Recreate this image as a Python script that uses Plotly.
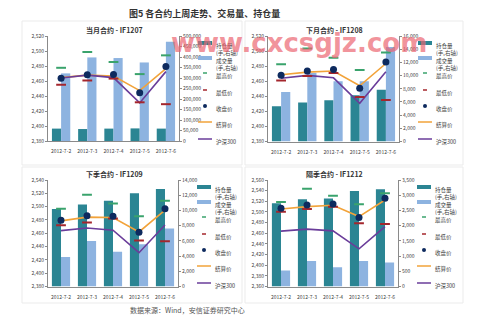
import plotly.graph_objects as go

# ---------------- data ----------------
dates = ["2012-7-2", "2012-7-3", "2012-7-4", "2012-7-5", "2012-7-6"]

hs300 = [2464.0, 2467.8, 2464.5, 2430.8, 2472.5]

if1207_oi = [59000, 57000, 59000, 60000, 59000]
if1207_vol = [322000, 398000, 395000, 374000, 473000]
if1207_high = [2477.6, 2498.7, 2485.3, 2469.2, 2494.2]
if1207_low = [2455.0, 2460.7, 2463.2, 2431.6, 2429.1]
if1207_close = [2463.8, 2468.5, 2468.7, 2444.5, 2479.2]
if1207_settle = [2464.5, 2467.8, 2466.5, 2447.2, 2476.5]

if1208_oi = [5330, 5900, 6250, 7000, 7830]
if1208_vol = [7500, 10400, 9150, 9150, 14350]
if1208_high = [2482.5, 2503.5, 2491.0, 2475.0, 2498.0]
if1208_low = [2461.0, 2467.0, 2471.0, 2439.0, 2435.0]
if1208_close = [2468.0, 2473.5, 2475.5, 2450.5, 2485.5]
if1208_settle = [2468.5, 2472.0, 2473.5, 2454.0, 2483.5]

if1209_oi = [10180, 10790, 11280, 12250, 12820]
if1209_vol = [3880, 5990, 4580, 5550, 7620]
if1209_high = [2496.7, 2517.9, 2504.8, 2485.7, 2508.8]
if1209_low = [2472.0, 2476.0, 2482.0, 2449.0, 2447.9]
if1209_close = [2479.6, 2486.2, 2485.7, 2461.5, 2496.7]
if1209_settle = [2478.6, 2484.2, 2483.6, 2462.0, 2494.7]

if1212_oi = [2735, 2867, 2888, 3140, 3195]
if1212_vol = [525, 842, 634, 842, 788]
if1212_high = [2518.8, 2543.8, 2530.6, 2514.4, 2535.0]
if1212_low = [2500.6, 2505.6, 2510.0, 2478.8, 2477.5]
if1212_close = [2506.9, 2513.1, 2515.0, 2489.4, 2525.6]
if1212_settle = [2505.6, 2510.0, 2512.5, 2491.3, 2522.5]

legend_labels = ["持仓量<br>(手,右轴)", "成交量<br>(手,右轴)", "最高价", "最低价",
                 "收盘价", "结算价", "沪深300"]

# ---------------- styling ----------------
W, H = 499, 323
FONT = "Noto Sans CJK SC"
C_OI = "#2b8593"
C_VOL = "#8db3e0"
C_HIGH = "#3aa36c"
C_LOW = "#a4262d"
C_CLOSE = "#0d2a5e"
C_SETTLE = "#f2a33a"
C_HS = "#6a3d9a"
AXIS_C = "#8a8a8a"
TXT_C = "#404040"


def px(x):
    return x / W


def py(y):
    return 1 - y / H


panels = [
    dict(title="当月合约 - IF1207", oi=if1207_oi, vol=if1207_vol, high=if1207_high,
         low=if1207_low, close=if1207_close, settle=if1207_settle,
         lrange=[2380, 2520], ldtick=20, rrange=[0, 500000], rdtick=50000,
         box=(48, 179, 36, 141), frame=(22, 242, 21, 165)),
    dict(title="下月合约 - IF1208", oi=if1208_oi, vol=if1208_vol, high=if1208_high,
         low=if1208_low, close=if1208_close, settle=if1208_settle,
         lrange=[2380, 2520], ldtick=20, rrange=[0, 16000], rdtick=2000,
         box=(268, 399, 36, 141.5), frame=(245, 463, 21, 165)),
    dict(title="下季合约 - IF1209", oi=if1209_oi, vol=if1209_vol, high=if1209_high,
         low=if1209_low, close=if1209_close, settle=if1209_settle,
         lrange=[2380, 2540], ldtick=20, rrange=[0, 14000], rdtick=2000,
         box=(48, 178, 180, 286.5), frame=(22, 242, 167, 303)),
    dict(title="隔季合约 - IF1212", oi=if1212_oi, vol=if1212_vol, high=if1212_high,
         low=if1212_low, close=if1212_close, settle=if1212_settle,
         lrange=[2360, 2560], ldtick=20, rrange=[0, 3500], rdtick=500,
         box=(268, 398, 180, 286.5), frame=(245, 463, 167, 303)),
]

fig = go.Figure()
layout = dict(
    width=W, height=H, template="none",
    margin=dict(l=0, r=0, t=0, b=0, pad=0),
    paper_bgcolor="white", plot_bgcolor="white",
    showlegend=False, barmode="group", bargap=0.3, bargroupgap=0,
    font=dict(family=FONT, size=6, color=TXT_C),
)
shapes = []
annotations = []

tick_font = dict(family=FONT, size=5, color=TXT_C)

for i, p in enumerate(panels):
    n = i + 1
    xa = "x" if n == 1 else f"x{n}"
    ybar = f"y{2 * n - 1}" if n > 1 else "y"
    yline = f"y{2 * n}"
    x0, x1, y0, y1 = p["box"]
    xdom = [px(x0), px(x1)]
    ydom = [py(y1), py(y0)]

    xkey = "xaxis" if n == 1 else f"xaxis{n}"
    ybkey = "yaxis" if n == 1 else f"yaxis{2 * n - 1}"
    ylkey = f"yaxis{2 * n}"

    layout[xkey] = dict(domain=xdom, anchor=ybar, type="category",
                        showline=True, linecolor=AXIS_C, linewidth=1,
                        showgrid=False, zeroline=False, ticks="",
                        ticklabelstandoff=5,
                        tickfont=tick_font, automargin=False, fixedrange=True)
    layout[ybkey] = dict(domain=ydom, anchor=xa, side="right",
                         range=p["rrange"], dtick=p["rdtick"], tickformat=",",
                         showline=True, linecolor=AXIS_C, linewidth=1,
                         ticks="outside", ticklen=2, tickcolor=AXIS_C,
                         showgrid=False, zeroline=False, tickfont=tick_font,
                         automargin=False)
    layout[ylkey] = dict(overlaying=ybar, anchor=xa, side="left",
                         range=p["lrange"], dtick=p["ldtick"], tickformat=",",
                         showline=True, linecolor=AXIS_C, linewidth=1,
                         ticks="outside", ticklen=2, tickcolor=AXIS_C,
                         showgrid=False, zeroline=False, tickfont=tick_font,
                         automargin=False)

    # volume / open interest bars on the right-hand axis
    fig.add_trace(go.Bar(x=dates, y=p["oi"], name="持仓量", marker_color=C_OI,
                         marker_line_width=0, xaxis=xa, yaxis=ybar))
    fig.add_trace(go.Bar(x=dates, y=p["vol"], name="成交量", marker_color=C_VOL,
                         marker_line_width=0, xaxis=xa, yaxis=ybar))
    # price series on the left-hand axis
    fig.add_trace(go.Scatter(x=dates, y=p["settle"], mode="lines", name="结算价",
                             line=dict(color=C_SETTLE, width=1.6), xaxis=xa, yaxis=yline))
    fig.add_trace(go.Scatter(x=dates, y=hs300, mode="lines", name="沪深300",
                             line=dict(color=C_HS, width=1.6), xaxis=xa, yaxis=yline))
    fig.add_trace(go.Scatter(x=dates, y=p["high"], mode="markers", name="最高价",
                             marker=dict(symbol="line-ew", size=7,
                                         line=dict(color=C_HIGH, width=2)),
                             xaxis=xa, yaxis=yline))
    fig.add_trace(go.Scatter(x=dates, y=p["low"], mode="markers", name="最低价",
                             marker=dict(symbol="line-ew", size=7,
                                         line=dict(color=C_LOW, width=2)),
                             xaxis=xa, yaxis=yline))
    fig.add_trace(go.Scatter(x=dates, y=p["close"], mode="markers", name="收盘价",
                             marker=dict(size=7, color=C_CLOSE),
                             xaxis=xa, yaxis=yline))

    # panel frame
    fx0, fx1, fy0, fy1 = p["frame"]
    shapes.append(dict(type="rect", xref="paper", yref="paper",
                       x0=px(fx0), x1=px(fx1), y0=py(fy1), y1=py(fy0),
                       line=dict(color="#ebebeb", width=1), layer="below"))

    # panel title
    annotations.append(dict(text=f"<b>{p['title']}</b>", xref="paper", yref="paper",
                            x=px((x0 + x1) / 2 + 1), y=py(y0 - 6),
                            xanchor="center", yanchor="middle", showarrow=False,
                            font=dict(family=FONT, size=7, color="#333333")))

    # legend
    lx = x1 + 19
    offsets = [7, 22, 37, 54, 70, 86, 103]
    for k, (lab, off) in enumerate(zip(legend_labels, offsets)):
        yy = y0 + off
        if k in (0, 1):
            shapes.append(dict(type="line", xref="paper", yref="paper",
                               x0=px(lx), x1=px(lx + 14), y0=py(yy), y1=py(yy),
                               line=dict(color=C_OI if k == 0 else C_VOL, width=4)))
        elif k in (2, 3):
            shapes.append(dict(type="line", xref="paper", yref="paper",
                               x0=px(lx + 5), x1=px(lx + 9), y0=py(yy), y1=py(yy),
                               line=dict(color=C_HIGH if k == 2 else C_LOW, width=1.5)))
        elif k == 4:
            shapes.append(dict(type="circle", xref="paper", yref="paper",
                               x0=px(lx + 5), x1=px(lx + 9), y0=py(yy + 2), y1=py(yy - 2),
                               fillcolor=C_CLOSE, line=dict(width=0)))
        else:
            shapes.append(dict(type="line", xref="paper", yref="paper",
                               x0=px(lx), x1=px(lx + 14), y0=py(yy), y1=py(yy),
                               line=dict(color=C_SETTLE if k == 5 else C_HS, width=1.5)))
        annotations.append(dict(text=lab, xref="paper", yref="paper",
                                x=px(lx + 16), y=py(yy - 3.2), xanchor="left",
                                yanchor="top", align="left", showarrow=False,
                                font=dict(family=FONT, size=5.5, color=TXT_C)))

# figure title and source note
annotations.append(dict(text="<b>图5 各合约上周走势、交易量、持仓量</b>", xref="paper",
                        yref="paper", x=px(204), y=py(13), xanchor="center",
                        yanchor="middle", showarrow=False,
                        font=dict(family=FONT, size=9, color="#333333")))
annotations.append(dict(text="数据来源：Wind，安信证券研究中心", xref="paper",
                        yref="paper", x=px(128), y=py(310), xanchor="left",
                        yanchor="middle", showarrow=False,
                        font=dict(family=FONT, size=7, color="#555555")))
# site watermark
annotations.append(dict(text="<b>www.cxcsgjz.com</b>", xref="paper", yref="paper",
                        x=px(299), y=py(43), xanchor="center", yanchor="middle",
                        showarrow=False,
                        font=dict(family="DejaVu Sans", size=26,
                                  color="rgba(236,100,112,0.7)")))

layout["shapes"] = shapes
layout["annotations"] = annotations
fig.update_layout(**layout)

fig.write_html("out.html")
